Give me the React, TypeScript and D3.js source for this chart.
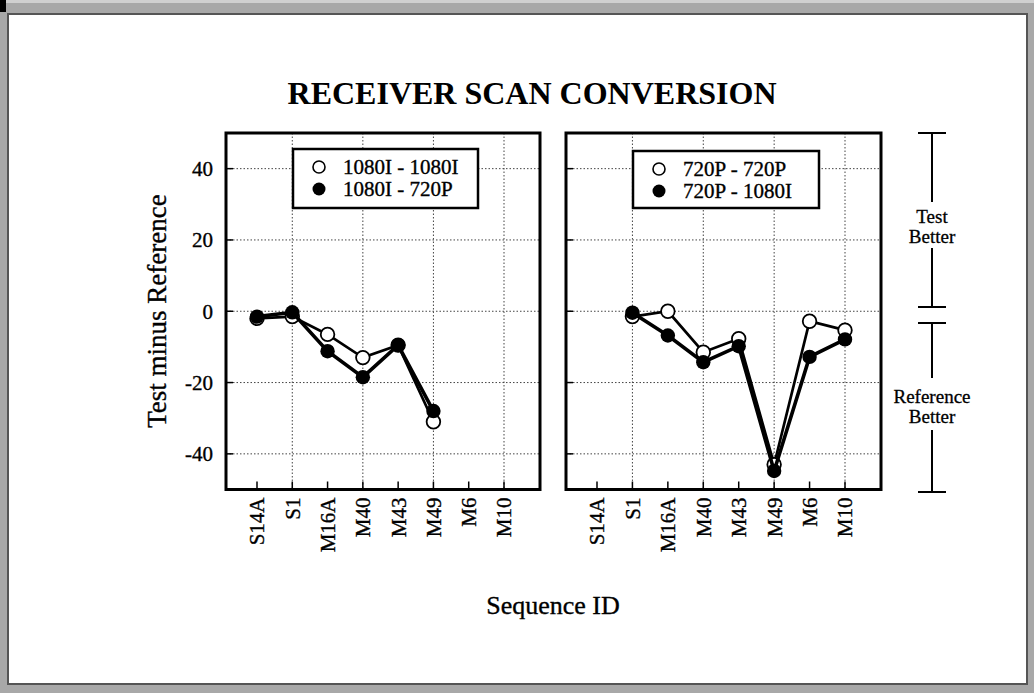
import React from "react";
import * as d3 from "d3";

const categories = ["S14A", "S1", "M16A", "M40", "M43", "M49", "M6", "M10"];
const leftOpen: (number | null)[] = [-2, -1.5, -6.5, -13, -9.5, -31, null, null];
const leftFilled: (number | null)[] = [-1.5, -0.3, -11.2, -18.5, -9.5, -28, null, null];
const rightOpen: (number | null)[] = [null, -1.5, 0, -11.5, -7.7, -43, -2.8, -5.3];
const rightFilled: (number | null)[] = [null, -0.4, -6.8, -14.3, -9.8, -44.8, -12.8, -7.9];
const yTicks = [40, 20, 0, -20, -40];
const gridCats = ["S1", "M40", "M49", "M10"];
const leftLegend = ["1080I - 1080I", "1080I - 720P"];
const rightLegend = ["720P - 720P", "720P - 1080I"];

const W = 1034;
const H = 693;
const TOP = 133;
const BOTTOM = 489.5;
const FONT = "'Liberation Serif', 'Times New Roman', serif";
const INK = { stroke: "#000", strokeWidth: 0.35 };

const y = d3.scaleLinear().domain([-50, 50]).range([BOTTOM, TOP]);

type PanelProps = {
  x0: number;
  x1: number;
  open: (number | null)[];
  filled: (number | null)[];
  legend: string[];
  legendBox: { x: number; y: number; w: number; h: number };
  showYLabels: boolean;
};

function Panel({ x0, x1, open, filled, legend, legendBox, showYLabels }: PanelProps) {
  const x = d3.scalePoint<string>().domain(categories).range([x0 + 31, x1 - 36]);
  const line = d3
    .line<{ c: string; v: number | null }>()
    .defined((d) => d.v != null)
    .x((d) => x(d.c) as number)
    .y((d) => y(d.v as number));
  const openPts = categories.map((c, i) => ({ c, v: open[i] }));
  const filledPts = categories.map((c, i) => ({ c, v: filled[i] }));
  return (
    <g>
      {yTicks.map((t) => (
        <line key={"h" + t} x1={x0} x2={x1} y1={y(t)} y2={y(t)} stroke="#444" strokeWidth={1} strokeDasharray="1.5,2" />
      ))}
      {gridCats.map((c) => (
        <line key={"v" + c} x1={x(c)} x2={x(c)} y1={TOP} y2={BOTTOM} stroke="#444" strokeWidth={1} strokeDasharray="1.5,2" />
      ))}
      {yTicks.map((t) => (
        <line key={"yt" + t} x1={x0} x2={x0 + 7} y1={y(t)} y2={y(t)} stroke="#000" strokeWidth={1.5} />
      ))}
      {categories.map((c) => (
        <line key={"xt" + c} x1={x(c)} x2={x(c)} y1={BOTTOM} y2={BOTTOM - 8} stroke="#000" strokeWidth={1.5} />
      ))}
      <rect x={x0} y={TOP} width={x1 - x0} height={BOTTOM - TOP} fill="none" stroke="#000" strokeWidth={3} />
      {showYLabels &&
        yTicks.map((t) => (
          <text key={"yl" + t} x={x0 - 13} y={y(t)} dy="0.35em" textAnchor="end" fontFamily={FONT} fontSize={21} {...INK}>
            {t}
          </text>
        ))}
      {categories.map((c) => (
        <text
          key={"xl" + c}
          transform={`translate(${x(c)},${BOTTOM + 8}) rotate(-90)`}
          textAnchor="end"
          dy="0.35em"
          fontFamily={FONT}
          fontSize={21}
          {...INK}
        >
          {c}
        </text>
      ))}
      <path d={line(openPts) || ""} fill="none" stroke="#000" strokeWidth={2.7} />
      {openPts.filter((d) => d.v != null).map((d) => (
        <circle key={"o" + d.c} cx={x(d.c)} cy={y(d.v as number)} r={6.8} fill="#fff" stroke="#000" strokeWidth={1.8} />
      ))}
      <path d={line(filledPts) || ""} fill="none" stroke="#000" strokeWidth={3.6} />
      {filledPts.filter((d) => d.v != null).map((d) => (
        <circle key={"f" + d.c} cx={x(d.c)} cy={y(d.v as number)} r={7.2} fill="#000" />
      ))}
      <rect x={legendBox.x} y={legendBox.y} width={legendBox.w} height={legendBox.h} fill="#fff" stroke="#000" strokeWidth={2.5} />
      <circle cx={legendBox.x + 26} cy={legendBox.y + 18} r={6} fill="#fff" stroke="#000" strokeWidth={1.6} />
      <circle cx={legendBox.x + 26} cy={legendBox.y + 40} r={6.5} fill="#000" />
      <text x={legendBox.x + 50} y={legendBox.y + 18} dy="0.35em" fontFamily={FONT} fontSize={21} {...INK}>
        {legend[0]}
      </text>
      <text x={legendBox.x + 50} y={legendBox.y + 40} dy="0.35em" fontFamily={FONT} fontSize={21} {...INK}>
        {legend[1]}
      </text>
    </g>
  );
}

export default function App() {
  const ax = 932;
  const capW = 14;
  return (
    <svg width={W} height={H} style={{ position: "absolute", left: 0, top: 0, background: "#fff" }}>
      <rect x={0} y={0} width={W} height={H} fill="#a8a8a8" />
      <rect x={0} y={0} width={W} height={3} fill="#d0d0d0" />
      <rect x={8} y={14} width={1019} height={670} fill="#fff" stroke="#555" strokeWidth={2} />
      <rect x={0} y={0} width={6} height={12} fill="#000" />

      <text x={532} y={104} textAnchor="middle" fontFamily={FONT} fontWeight="bold" fontSize={32}>
        RECEIVER SCAN CONVERSION
      </text>

      <Panel
        x0={226}
        x1={540}
        open={leftOpen}
        filled={leftFilled}
        legend={leftLegend}
        legendBox={{ x: 293, y: 149, w: 185, h: 59 }}
        showYLabels={true}
      />
      <Panel
        x0={566}
        x1={881}
        open={rightOpen}
        filled={rightFilled}
        legend={rightLegend}
        legendBox={{ x: 633, y: 151, w: 186, h: 57 }}
        showYLabels={false}
      />

      <text
        transform={`translate(157,311) rotate(-90)`}
        textAnchor="middle"
        dy="0.35em"
        fontFamily={FONT}
        fontSize={27}
        {...INK}
      >
        Test minus Reference
      </text>
      <text x={553} y={614} textAnchor="middle" fontFamily={FONT} fontSize={26} {...INK}>
        Sequence ID
      </text>

      <g stroke="#000" strokeWidth={2}>
        <line x1={ax - capW} x2={ax + capW} y1={133} y2={133} />
        <line x1={ax} x2={ax} y1={133} y2={202} />
        <line x1={ax} x2={ax} y1={248} y2={307} />
        <line x1={ax - capW} x2={ax + capW} y1={307} y2={307} />
        <line x1={ax - capW} x2={ax + capW} y1={323} y2={323} />
        <line x1={ax} x2={ax} y1={323} y2={378} />
        <line x1={ax} x2={ax} y1={430} y2={492} />
        <line x1={ax - capW} x2={ax + capW} y1={492} y2={492} />
      </g>
      <g fontFamily={FONT} fontSize={19} textAnchor="middle" stroke="#000" strokeWidth={0.3}>
        <text x={ax} y={223}>Test</text>
        <text x={ax} y={243}>Better</text>
        <text x={ax} y={403}>Reference</text>
        <text x={ax} y={423}>Better</text>
      </g>
    </svg>
  );
}
